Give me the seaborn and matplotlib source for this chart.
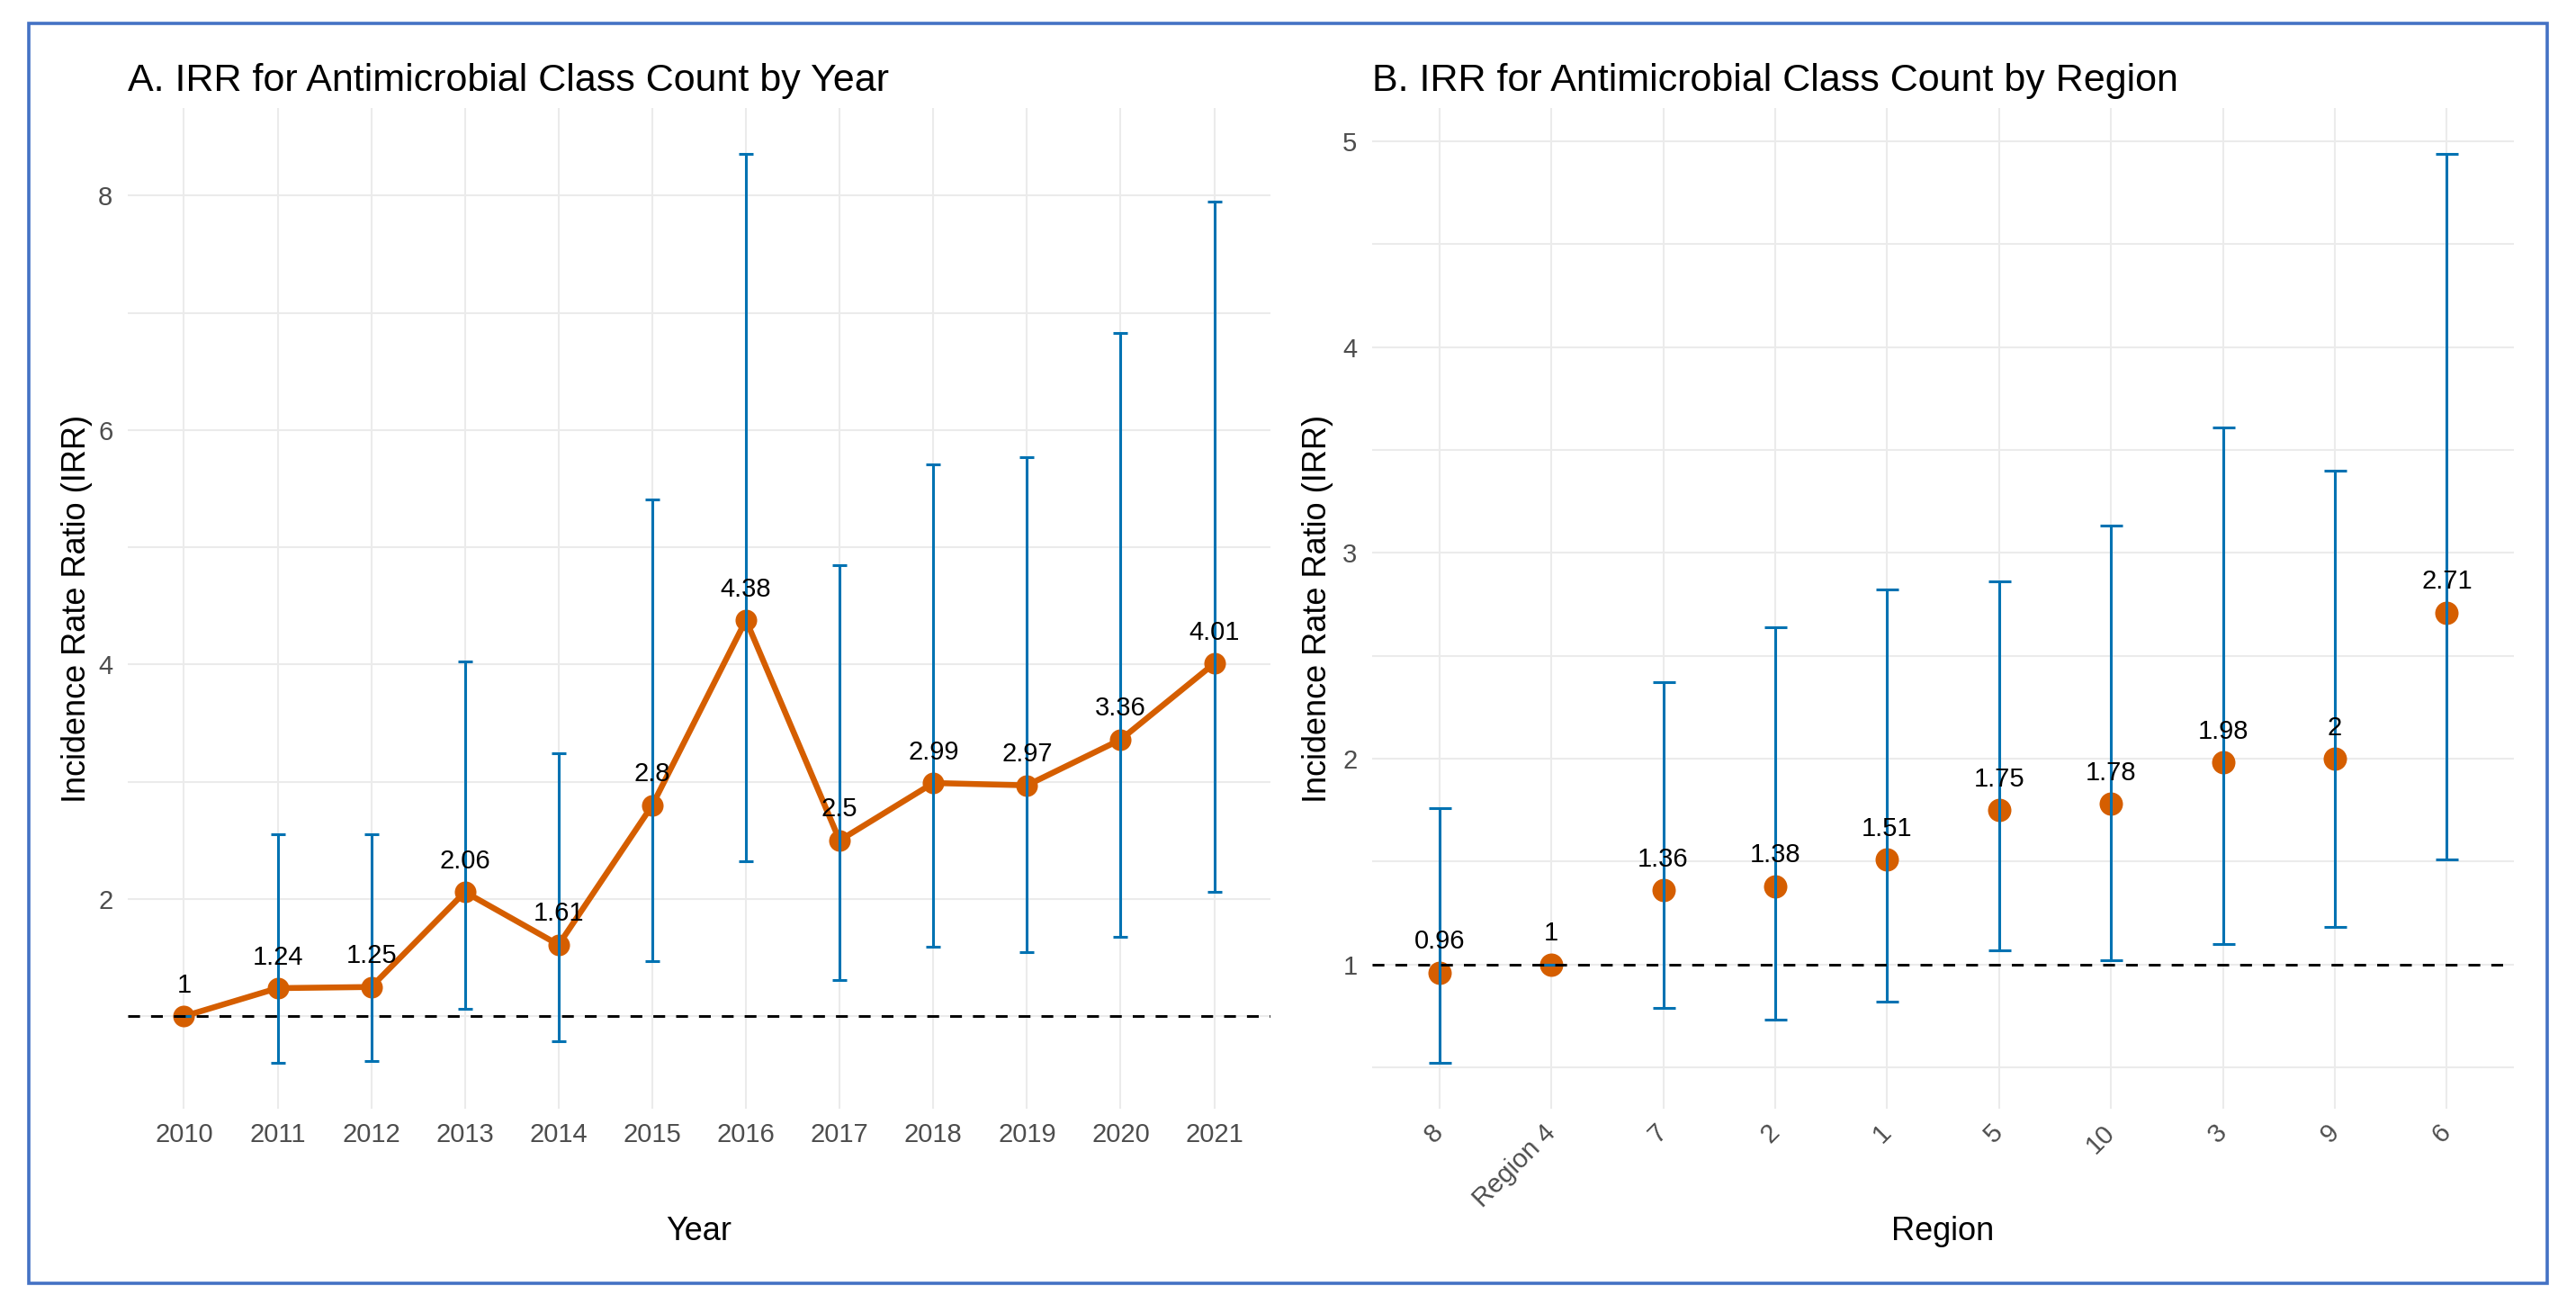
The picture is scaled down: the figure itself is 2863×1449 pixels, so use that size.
import pandas as pd
import matplotlib.pyplot as plt
import matplotlib.patches as patches
from matplotlib.ticker import MultipleLocator
import seaborn as sns

# Panel A: IRR by year
years = ["2010", "2011", "2012", "2013", "2014", "2015",
         "2016", "2017", "2018", "2019", "2020", "2021"]
irr_year = [1.00, 1.24, 1.25, 2.06, 1.61, 2.80, 4.38, 2.50, 2.99, 2.97, 3.36, 4.01]
lo_year = [1.00, 0.60, 0.62, 1.06, 0.79, 1.47, 2.32, 1.31, 1.59, 1.55, 1.68, 2.06]
hi_year = [1.00, 2.55, 2.55, 4.03, 3.24, 5.41, 8.36, 4.85, 5.71, 5.77, 6.83, 7.95]

# Panel B: IRR by region
regions = ["8", "Region 4", "7", "2", "1", "5", "10", "3", "9", "6"]
irr_region = [0.96, 1.00, 1.36, 1.38, 1.51, 1.75, 1.78, 1.98, 2.00, 2.71]
lo_region = [0.52, 1.00, 0.79, 0.73, 0.82, 1.07, 1.02, 1.10, 1.18, 1.51]
hi_region = [1.76, 1.00, 2.37, 2.64, 2.82, 2.86, 3.13, 3.61, 3.40, 4.94]

ORANGE = "#D55E00"
BLUE = "#0072B2"
GRID = "#EBEBEB"
TICK = "#4D4D4D"

sns.set_theme(style="whitegrid")
plt.rcParams["font.family"] = ["Liberation Sans", "DejaVu Sans"]

df_year = pd.DataFrame({"year": years, "irr": irr_year, "lo": lo_year, "hi": hi_year})
df_reg = pd.DataFrame({"region": regions, "irr": irr_region, "lo": lo_region, "hi": hi_region})

fig = plt.figure(figsize=(28.63, 14.49), dpi=100)
fig.patch.set_facecolor("white")
ax1 = fig.add_axes([0.0496, 0.1498, 0.4436, 0.7674])
ax2 = fig.add_axes([0.5327, 0.1498, 0.4432, 0.7674])


def style_axis(ax, major, minor, n):
    ax.set_facecolor("white")
    for s in ax.spines.values():
        s.set_visible(False)
    ax.yaxis.set_major_locator(MultipleLocator(major))
    ax.yaxis.set_minor_locator(MultipleLocator(minor))
    ax.grid(which="major", axis="both", color=GRID, linewidth=1.5, zorder=0)
    ax.grid(which="minor", axis="y", color=GRID, linewidth=1.5, zorder=0)
    ax.tick_params(axis="both", which="both", length=0, labelsize=21, labelcolor=TICK)
    ax.tick_params(axis="y", pad=12)
    ax.set_xlim(-0.6, n - 1 + 0.6)
    ax.set_axisbelow(True)


# ---- Panel A ----
sns.lineplot(data=df_year, x="year", y="irr", color=ORANGE, linewidth=4.7,
             sort=False, ax=ax1, zorder=2)
sns.scatterplot(data=df_year, x="year", y="irr", color=ORANGE, s=300,
                linewidth=0, ax=ax1, zorder=2)
ax1.errorbar(df_year["year"], df_year["irr"],
             yerr=[df_year["irr"] - df_year["lo"], df_year["hi"] - df_year["irr"]],
             fmt="none", ecolor=BLUE, elinewidth=2.2, capsize=6, capthick=2.2, zorder=3)
ax1.axhline(1, color="black", linestyle=(0, (4.5, 4.2)), linewidth=2.1, zorder=4)
for x, y in zip(df_year["year"], df_year["irr"]):
    ax1.annotate(f"{y:g}", (x, y), xytext=(0, 19), textcoords="offset points",
                 ha="center", va="baseline", fontsize=21, color="black", zorder=5)
style_axis(ax1, 2, 1, len(years))
rng = max(hi_year) - min(lo_year)
ax1.set_ylim(min(lo_year) - 0.05 * rng, max(hi_year) + 0.05 * rng)
ax1.tick_params(axis="x", pad=11)
ax1.set_title("A. IRR for Antimicrobial Class Count by Year", loc="left",
              fontsize=31, pad=14, color="black")
ax1.set_xlabel("Year", fontsize=26, color="black")
ax1.set_ylabel("Incidence Rate Ratio (IRR)", fontsize=26, color="black")

# ---- Panel B ----
sns.scatterplot(data=df_reg, x="region", y="irr", color=ORANGE, s=350,
                linewidth=0, ax=ax2, zorder=2)
ax2.errorbar(df_reg["region"], df_reg["irr"],
             yerr=[df_reg["irr"] - df_reg["lo"], df_reg["hi"] - df_reg["irr"]],
             fmt="none", ecolor=BLUE, elinewidth=2.2, capsize=9, capthick=2.2, zorder=3)
ax2.axhline(1, color="black", linestyle=(0, (4.5, 4.2)), linewidth=2.1, zorder=4)
for x, y in zip(df_reg["region"], df_reg["irr"]):
    ax2.annotate(f"{y:g}", (x, y), xytext=(0, 19), textcoords="offset points",
                 ha="center", va="baseline", fontsize=21, color="black", zorder=5)
style_axis(ax2, 1, 0.5, len(regions))
rng = max(hi_region) - min(lo_region)
ax2.set_ylim(min(lo_region) - 0.05 * rng, max(hi_region) + 0.05 * rng)
ax2.tick_params(axis="x", pad=16)
for lab in ax2.get_xticklabels():
    lab.set_rotation(45)
    lab.set_ha("right")
    lab.set_va("center")
    lab.set_rotation_mode("anchor")
ax2.set_title("B. IRR for Antimicrobial Class Count by Region", loc="left",
              fontsize=31, pad=14, color="black")
ax2.set_xlabel("Region", fontsize=26, color="black")
ax2.set_ylabel("Incidence Rate Ratio (IRR)", fontsize=26, color="black")

# axis title placement (shared baseline for both panels)
for ax, yx in ((ax1, -0.0441), (ax2, -0.0481)):
    ax.xaxis.label.set_va("center")
    ax.xaxis.set_label_coords(0.5, -0.1232)
    ax.yaxis.label.set_va("center")
    ax.yaxis.set_label_coords(yx, 0.5)

# blue frame around the figure
fig.patches.append(patches.Rectangle((32 / 2863, 1 - 1426 / 1449), 2799 / 2863, 1400 / 1449,
                                     transform=fig.transFigure, fill=False,
                                     edgecolor="#4472C4", linewidth=2.6))

fig.savefig("out.png", dpi=100, facecolor="white")
